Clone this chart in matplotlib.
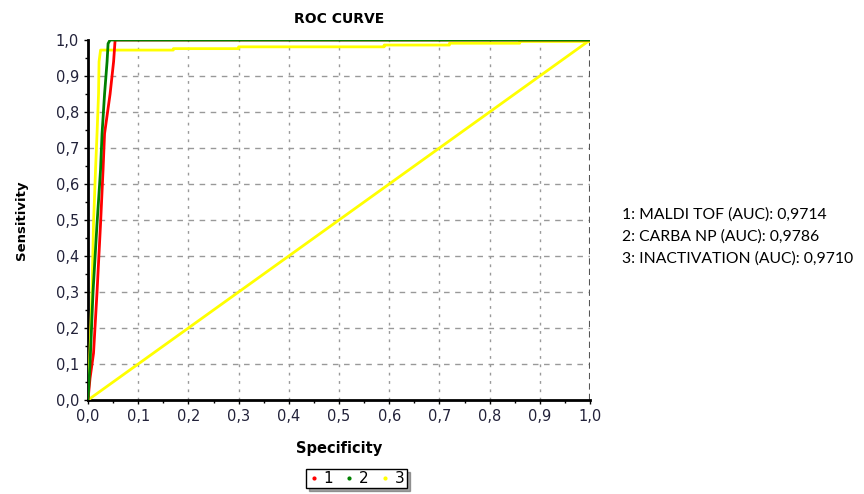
import matplotlib.pyplot as plt
from matplotlib.lines import Line2D
from matplotlib.ticker import MultipleLocator, FuncFormatter

# ROC points (x = 1 - specificity axis as drawn, y = sensitivity)
maldi_x = [0, 0.004, 0.011, 0.018, 0.025, 0.030, 0.033, 0.044, 0.051, 0.054, 1.0]
maldi_y = [0, 0.06, 0.13, 0.30, 0.49, 0.64, 0.74, 0.85, 0.94, 1.0, 1.0]

carba_x = [0, 0.002, 0.004, 0.010, 0.018, 0.025, 0.028, 0.033, 0.038, 0.040, 0.044, 1.0]
carba_y = [0, 0.05, 0.10, 0.30, 0.49, 0.64, 0.74, 0.85, 0.94, 0.99, 1.0, 1.0]

inact_x = [0, 0.003, 0.008, 0.011, 0.015, 0.018, 0.021, 0.022, 0.025,
           0.17, 0.17, 0.30, 0.30, 0.59, 0.59, 0.72, 0.72, 0.86, 0.86, 1.0]
inact_y = [0, 0.10, 0.30, 0.49, 0.64, 0.74, 0.85, 0.94, 0.972,
           0.972, 0.976, 0.976, 0.981, 0.981, 0.986, 0.986, 0.991, 0.991, 0.996, 0.996]

ref_x = [0, 1]
ref_y = [0, 1]

auc_labels = ["1: MALDI TOF (AUC): 0,9714",
              "2: CARBA NP (AUC): 0,9786",
              "3: INACTIVATION (AUC): 0,9710"]

colors = ["#ff0000", "#008000", "#ffff00"]

fig = plt.figure(figsize=(8.64, 4.94), dpi=100)
ax = fig.add_axes([88 / 864, 1 - 400 / 494, (590 - 88) / 864, 360 / 494])

ax.plot(ref_x, ref_y, color=colors[2], lw=2, zorder=3)
ax.plot(inact_x, inact_y, color=colors[2], lw=2, zorder=4)
ax.plot(maldi_x, maldi_y, color=colors[0], lw=2, zorder=5)
ax.plot(carba_x, carba_y, color=colors[1], lw=2, zorder=6)

ax.set_xlim(0, 1)
ax.set_ylim(0, 1)
ax.xaxis.set_major_locator(MultipleLocator(0.1))
ax.yaxis.set_major_locator(MultipleLocator(0.1))
ax.xaxis.set_minor_locator(MultipleLocator(0.05))
ax.yaxis.set_minor_locator(MultipleLocator(0.05))
comma = FuncFormatter(lambda v, p: f"{v:.1f}".replace(".", ","))
ax.xaxis.set_major_formatter(comma)
ax.yaxis.set_major_formatter(comma)
ax.tick_params(which="both", direction="out", length=3, width=1, labelsize=10.5,
               colors="black", labelcolor="#22223a")
ax.tick_params(which="minor", length=2)

for v in [0.1 * i for i in range(1, 10)]:
    ax.axvline(v, color="#999999", lw=1, ls=(0, (2, 4)), zorder=1)
    ax.axhline(v, color="#999999", lw=1, ls=(0, (4, 4)), zorder=1)
ax.axvline(1.0, color="#555555", lw=1.5, ls=(0, (3, 2)), zorder=2)

ax.spines["top"].set_visible(False)
ax.spines["right"].set_visible(False)
ax.spines["left"].set_linewidth(2)
ax.spines["bottom"].set_linewidth(2)

ax.set_title("ROC CURVE", fontsize=10, fontweight="bold", pad=12)
ax.set_xlabel("Specificity", fontsize=10.5, fontweight="bold", labelpad=12)
ax.set_ylabel("Sensitivity", fontsize=9.5, fontweight="bold", labelpad=20)

handles = [Line2D([], [], color=c, marker=".", ms=4, lw=0) for c in colors]
leg = ax.legend(handles, ["1", "2", "3"], ncol=3, loc="upper center",
                bbox_to_anchor=(0.535, -0.17), frameon=True, fancybox=False,
                shadow=True, edgecolor="black", fontsize=11, handlelength=0.7,
                handletextpad=0.3, columnspacing=0.7, borderpad=0.15)
leg.get_frame().set_linewidth(1)

for i, t in enumerate(auc_labels):
    fig.text(622 / 864, 1 - (215 + 22 * i) / 494, t, fontsize=11.3, family="Lato",
             va="center", ha="left")

fig.savefig("out.png", dpi=100)
